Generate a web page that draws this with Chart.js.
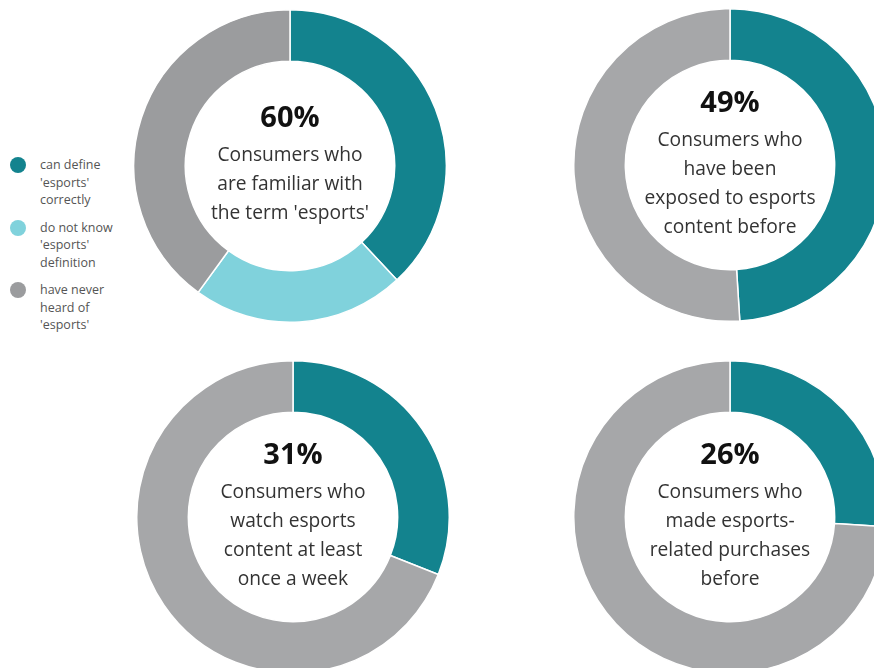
<!DOCTYPE html>
<html>
<head>
<meta charset="utf-8">
<script src="https://cdn.jsdelivr.net/npm/chart.js@4"></script>
<style>
    html, body { margin: 0; padding: 0; background: #fff; }
    body { width: 874px; height: 668px; overflow: hidden; position: relative; font-family: "Open Sans", sans-serif; }
    .ring { position: absolute; width: 314px; height: 314px; }
    #legend { position: absolute; left: 10px; top: 156px; }
    .item { position: relative; padding-left: 30px; font-size: 12.5px; line-height: 17.5px; color: #555; margin-bottom: 10px; }
    .dot { position: absolute; left: 0; top: 1px; width: 16px; height: 16px; border-radius: 50%; }
</style>
</head>
<body>
<div id="legend"></div>
<div class="ring" style="left:133px; top:9px;"><canvas id="c0"></canvas></div>
<div class="ring" style="left:573px; top:8px;"><canvas id="c1"></canvas></div>
<div class="ring" style="left:136px; top:360px;"><canvas id="c2"></canvas></div>
<div class="ring" style="left:573px; top:360px;"><canvas id="c3"></canvas></div>

<script>
const TEAL = '#13838e';
const LIGHT = '#80d2dc';
const GREY = '#a6a7a9';
const GREY_DARK = '#9b9c9e';

// familiarity breakdown (first ring)
const awarenessLabels = ["can define 'esports' correctly", "do not know 'esports' definition", "have never heard of 'esports'"];
const awarenessLegendLines = [["can define", "'esports'", "correctly"], ["do not know", "'esports'", "definition"], ["have never", "heard of", "'esports'"]];
const awarenessValues = [38, 22, 40];

// single-share rings
const shareValues = [49, 31, 26];
const shareCaptions = [
    ['Consumers who', 'have been', 'exposed to esports', 'content before'],
    ['Consumers who', 'watch esports', 'content at least', 'once a week'],
    ['Consumers who', 'made esports-', 'related purchases', 'before']
];
const familiarCaption = ['Consumers who', 'are familiar with', "the term 'esports'"];

// legend
const legendEl = document.getElementById('legend');
[TEAL, LIGHT, GREY_DARK].forEach((col, i) => {
    const div = document.createElement('div');
    div.className = 'item';
    div.innerHTML = '<span class="dot" style="background:' + col + '"></span>' + awarenessLegendLines[i].join('<br>');
    legendEl.appendChild(div);
});

// text in the hole of each ring
const centerText = {
    id: 'centerText',
    afterDraw(chart, args, opts) {
        const ctx = chart.ctx;
        const a = chart.chartArea;
        const cx = (a.left + a.right) / 2;
        const cy = (a.top + a.bottom) / 2;
        const lines = opts.lines;
        const lh = 29;
        const blockTop = cy - (36 + lh * (lines.length - 1)) / 2;
        ctx.save();
        ctx.textAlign = 'center';
        ctx.textBaseline = 'middle';
        ctx.fillStyle = '#111';
        ctx.font = 'bold 29px "Open Sans"';
        ctx.fillText(opts.title, cx, blockTop);
        ctx.fillStyle = '#333';
        ctx.font = '19.2px "Open Sans"';
        lines.forEach((l, i) => ctx.fillText(l, cx, blockTop + 37 + i * lh));
        ctx.restore();
    }
};

function makeRing(id, labels, values, colors, title, lines) {
    new Chart(document.getElementById(id), {
        type: 'doughnut',
        data: {
            labels: labels,
            datasets: [{
                data: values,
                backgroundColor: colors,
                borderColor: '#fff',
                borderWidth: 1.5
            }]
        },
        options: {
            responsive: true,
            maintainAspectRatio: false,
            animation: false,
            cutout: '67%',
            plugins: {
                legend: { display: false },
                tooltip: { enabled: false },
                centerText: { title: title, lines: lines }
            }
        },
        plugins: [centerText]
    });
}

makeRing('c0', awarenessLabels, awarenessValues, [TEAL, LIGHT, GREY_DARK],
    (awarenessValues[0] + awarenessValues[1]) + '%', familiarCaption);

shareValues.forEach((v, i) => {
    makeRing('c' + (i + 1), ['yes', 'no'], [v, 100 - v], [TEAL, GREY], v + '%', shareCaptions[i]);
});
</script>
</body>
</html>
